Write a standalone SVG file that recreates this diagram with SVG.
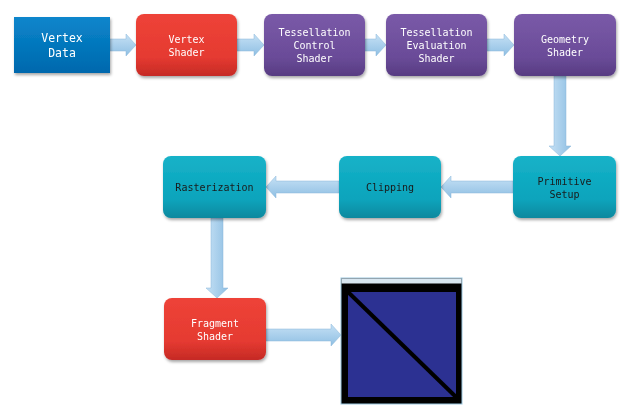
<svg xmlns="http://www.w3.org/2000/svg" width="638" height="418" viewBox="0 0 638 418">
<defs>
<linearGradient id="gBlue" x1="0" y1="0" x2="0" y2="1"><stop offset="0" stop-color="#0a86cc"/><stop offset="1" stop-color="#0068ad"/></linearGradient>
<linearGradient id="gRed" x1="0" y1="0" x2="0" y2="1"><stop offset="0" stop-color="#ee4338"/><stop offset="0.7" stop-color="#e53a31"/><stop offset="1" stop-color="#c52a25"/></linearGradient>
<linearGradient id="gPurple" x1="0" y1="0" x2="0" y2="1"><stop offset="0" stop-color="#7a5aa8"/><stop offset="0.7" stop-color="#6a4b98"/><stop offset="1" stop-color="#573c82"/></linearGradient>
<linearGradient id="gTeal" x1="0" y1="0" x2="0" y2="1"><stop offset="0" stop-color="#16b2c8"/><stop offset="0.7" stop-color="#0aa4bc"/><stop offset="1" stop-color="#08889e"/></linearGradient>
<linearGradient id="gArrH" x1="0" y1="0" x2="0" y2="1"><stop offset="0" stop-color="#c6e1f5"/><stop offset="1" stop-color="#8fbfe3"/></linearGradient>
<linearGradient id="gArrV" x1="0" y1="0" x2="1" y2="0"><stop offset="0" stop-color="#c6e1f5"/><stop offset="1" stop-color="#8fbfe3"/></linearGradient>
<filter id="sh" x="-10%" y="-10%" width="125%" height="130%"><feDropShadow dx="1" dy="2" stdDeviation="1.5" flood-color="#000" flood-opacity="0.35"/></filter>
</defs>
<style>
.t{font-family:"DejaVu Sans Mono","Liberation Mono",monospace;font-size:10px;text-anchor:middle;fill:#ffffff}
.tb{font-family:"DejaVu Sans Mono","Liberation Mono",monospace;font-size:10px;text-anchor:middle;fill:#1a1a1a}
.tl{font-family:"DejaVu Sans Mono","Liberation Mono",monospace;font-size:11.5px;text-anchor:middle;fill:#ffffff}
.ah{fill:url(#gArrH);stroke:#8ab6d8;stroke-width:0.5}
.av{fill:url(#gArrV);stroke:#8ab6d8;stroke-width:0.5}
</style>
<rect width="638" height="418" fill="#ffffff"/>
<g id="connectors">
<path class="ah" d="M110,39 H126 V34 L136,45 L126,56 V51 H110 Z"/>
<path class="ah" d="M237,39 H254 V34 L264,45 L254,56 V51 H237 Z"/>
<path class="ah" d="M365,39 H376 V34 L386,45 L376,56 V51 H365 Z"/>
<path class="ah" d="M487,39 H504 V34 L514,45 L504,56 V51 H487 Z"/>
<path class="av" d="M554,76 V146 H549 L560,156 L571,146 H566 V76 Z"/>
<path class="ah" d="M513,181 H451 V176 L441,187 L451,198 V193 H513 Z"/>
<path class="ah" d="M339,181 H276 V176 L266,187 L276,198 V193 H339 Z"/>
<path class="av" d="M211,218 V288 H206 L217,298 L228,288 H223 V218 Z"/>
<path class="ah" d="M266,329 H331 V324 L341,335 L331,346 V341 H266 Z"/>
</g>
<g id="vertex-data" filter="url(#sh)"><rect x="14" y="17" width="96" height="56" fill="url(#gBlue)"/><text class="tl" x="62" y="42">Vertex</text><text class="tl" x="62" y="57">Data</text></g>
<g id="vertex-shader" filter="url(#sh)"><rect x="136" y="14" width="101" height="62" rx="8" fill="url(#gRed)"/><text class="t" x="186.5" y="43">Vertex</text><text class="t" x="186.5" y="56">Shader</text></g>
<g id="tess-control" filter="url(#sh)"><rect x="264" y="14" width="101" height="62" rx="8" fill="url(#gPurple)"/><text class="t" x="314.5" y="36">Tessellation</text><text class="t" x="314.5" y="49">Control</text><text class="t" x="314.5" y="62">Shader</text></g>
<g id="tess-eval" filter="url(#sh)"><rect x="386" y="14" width="101" height="62" rx="8" fill="url(#gPurple)"/><text class="t" x="436.5" y="36">Tessellation</text><text class="t" x="436.5" y="49">Evaluation</text><text class="t" x="436.5" y="62">Shader</text></g>
<g id="geometry-shader" filter="url(#sh)"><rect x="514" y="14" width="102" height="62" rx="8" fill="url(#gPurple)"/><text class="t" x="565" y="43">Geometry</text><text class="t" x="565" y="56">Shader</text></g>
<g id="primitive-setup" filter="url(#sh)"><rect x="513" y="156" width="103" height="62" rx="8" fill="url(#gTeal)"/><text class="tb" x="564.5" y="185">Primitive</text><text class="tb" x="564.5" y="198">Setup</text></g>
<g id="clipping" filter="url(#sh)"><rect x="339" y="156" width="102" height="62" rx="8" fill="url(#gTeal)"/><text class="tb" x="390" y="191">Clipping</text></g>
<g id="rasterization" filter="url(#sh)"><rect x="163" y="156" width="103" height="62" rx="8" fill="url(#gTeal)"/><text class="tb" x="214.5" y="191">Rasterization</text></g>
<g id="fragment-shader" filter="url(#sh)"><rect x="164" y="298" width="102" height="62" rx="8" fill="url(#gRed)"/><text class="t" x="215" y="327">Fragment</text><text class="t" x="215" y="340">Shader</text></g>
<g id="output-window">
<rect x="341" y="278" width="121" height="126" fill="#000000" stroke="#9cc8e0" stroke-width="1"/>
<rect x="341.5" y="278.5" width="120" height="5" fill="#d8e6f0"/>
<rect x="348" y="292" width="108" height="105" fill="#2c3192"/>
<path d="M348,292 L456,397" stroke="#000000" stroke-width="4"/>
</g>
</svg>
